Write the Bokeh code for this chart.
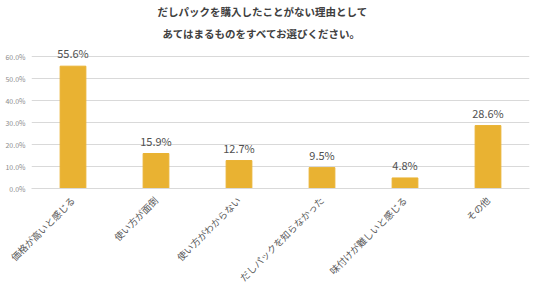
from bokeh.plotting import figure
from bokeh.models import ColumnDataSource, FactorRange, Range1d, FixedTicker, PrintfTickFormatter, Title
from bokeh.core.properties import value
from bokeh.embed import file_html
from bokeh.resources import INLINE
import math

# Survey data: reasons for never buying dashi packs (%)
reasons = [
    "価格が高いと感じる",
    "使い方が面倒",
    "使い方がわからない",
    "だしパックを知らなかった",
    "味付けが難しいと感じる",
    "その他",
]
shares = [55.6, 15.9, 12.7, 9.5, 4.8, 28.6]
y_ticks = [0, 10, 20, 30, 40, 50, 60]
title_lines = ["だしパックを購入したことがない理由として", "あてはまるものをすべてお選びください。"]

FONT = "Noto Sans CJK JP"
BAR = "#E9B232"
GRID = "#d9d9d9"

src = ColumnDataSource(dict(
    reason=reasons,
    share=shares,
    label=[f"{v:.1f}%" for v in shares],
))

# headroom above 60% so the tallest value label is not clipped
p = figure(
    width=536, height=293,
    x_range=FactorRange(*reasons, range_padding=0),
    y_range=Range1d(0, 65),
    output_backend="svg", toolbar_location=None,
    min_border_left=31, min_border_right=7,
    min_border_top=45, min_border_bottom=105,
)
p.outline_line_color = None
p.background_fill_color = "white"
p.border_fill_color = "white"

p.vbar(x="reason", top="share", width=0.31, source=src,
       fill_color=BAR, line_color=BAR)

p.text(x="reason", y="share", text="label", source=src,
       text_align="center", text_baseline="bottom", y_offset=-5,
       text_font=value(FONT), text_font_size="11px", text_color="#505050")

# y axis
p.yaxis.ticker = FixedTicker(ticks=y_ticks)
p.yaxis.formatter = PrintfTickFormatter(format="%.1f%%")
p.yaxis.axis_line_color = None
p.yaxis.major_tick_line_color = None
p.yaxis.minor_tick_line_color = None
p.yaxis.major_tick_out = 0
p.yaxis.major_tick_in = 0
p.yaxis.minor_tick_out = 0
p.yaxis.major_label_text_font = FONT
p.yaxis.major_label_text_font_size = "7px"
p.yaxis.major_label_text_color = "#8c8c8c"
p.yaxis.major_label_standoff = 6

p.ygrid.ticker = FixedTicker(ticks=y_ticks)
p.ygrid.grid_line_color = GRID
p.xgrid.grid_line_color = None

# x axis
p.xaxis.axis_line_color = GRID
p.xaxis.major_tick_line_color = None
p.xaxis.minor_tick_line_color = None
p.xaxis.major_tick_out = 0
p.xaxis.major_tick_in = 0
p.xaxis.minor_tick_out = 0
p.xaxis.major_label_orientation = math.pi / 4
p.xaxis.major_label_text_font = FONT
p.xaxis.major_label_text_font_size = "9.5px"
p.xaxis.major_label_text_color = "#595959"
p.xaxis.major_label_standoff = 10

# two-line title, left-aligned with offsets so it sits left of the frame centre
p.title.text = title_lines[0]
p.title.text_font = FONT
p.title.text_font_size = "10.5px"
p.title.text_font_style = "bold"
p.title.text_color = "#404040"
p.title.align = "left"
p.title.offset = 126
p.title.standoff = 2
p.add_layout(Title(text=title_lines[1], text_font=FONT, text_font_size="10.5px",
                   text_font_style="bold", text_color="#404040", align="left",
                   offset=131, standoff=9), "above")

open("out.html", "w").write(file_html(p, INLINE))
